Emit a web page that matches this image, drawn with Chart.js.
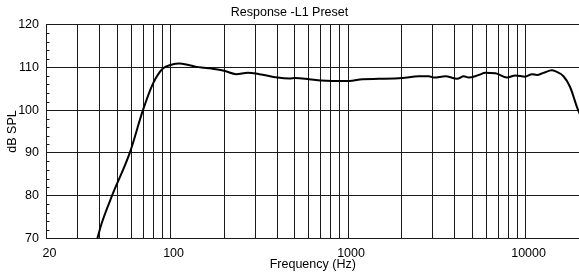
<!DOCTYPE html>
<html>
<head>
<meta charset="utf-8">
<script src="https://cdn.jsdelivr.net/npm/chart.js@4/dist/chart.umd.min.js"></script>
<style>
  html, body { margin: 0; padding: 0; background: #fff; }
  #wrap { position: relative; width: 579px; height: 277px; }
</style>
</head>
<body>
<div id="wrap"><canvas id="c"></canvas></div>
<script>
const chartTitle = "Response -L1 Preset";
const xTitle = "Frequency (Hz)";
const yTitle = "dB SPL";

const freqHz = [36.8, 38.7, 40.8, 46.8, 58.9, 69.9, 79.6, 90.5, 101, 112, 125, 140, 155, 170,
  200, 234, 272, 316, 401, 467, 504, 604, 703, 817, 1014, 1203, 1493, 2019, 2505, 2852, 3042, 3538,
  4113, 4483, 4786, 5445, 5937, 6760, 7857, 8750, 9955, 10860, 11580, 12620, 14060, 14690, 16350,
  17820, 19600, 20500];
const splDb = [66.5, 70, 73.4, 80, 90, 100, 106.2, 109.7, 110.6, 110.9, 110.6, 110.1, 109.9, 109.7,
  109.2, 108.4, 108.7, 108.4, 107.6, 107.4, 107.5, 107.2, 106.9, 106.8, 106.8, 107.2, 107.3, 107.5,
  107.9, 107.9, 107.6, 107.9, 107.3, 107.9, 107.6, 108.2, 108.7, 108.6, 107.6, 108.1, 107.8, 108.4,
  108.2, 108.7, 109.3, 109.1, 107.9, 105.4, 100.4, 98.5];

const xTickValues = [20, 30, 40, 50, 60, 70, 80, 90, 100, 200, 300, 400, 500, 600, 700, 800, 900,
  1000, 2000, 3000, 4000, 5000, 6000, 7000, 8000, 9000, 10000, 20000];
const xTickLabels = { 20: "20", 100: "100", 1000: "1000", 10000: "10000" };
const yMin = 70, yMax = 120, yMinorStep = 2, yMajorStep = 10;

const FONT = "'Liberation Sans', Arial, sans-serif";
const LINE = "#1a1a1a";

const points = freqHz.map((f, i) => ({ x: f, y: splDb[i] }));

const minorTicks = {
  id: 'minorTicks',
  afterDraw(chart) {
    const y = chart.scales.y;
    const ctx = chart.ctx;
    const left = chart.chartArea.left;
    ctx.save();
    ctx.strokeStyle = LINE;
    ctx.lineWidth = 1;
    for (let v = yMin; v <= yMax; v += yMinorStep) {
      if (v % yMajorStep === 0) continue;
      const py = Math.round(y.getPixelForValue(v)) + 0.5;
      ctx.beginPath();
      ctx.moveTo(left, py);
      ctx.lineTo(left + 3, py);
      ctx.stroke();
    }
    ctx.restore();
  }
};

new Chart(document.getElementById('c'), {
  type: 'line',
  data: {
    datasets: [{
      data: points,
      borderColor: '#000',
      borderWidth: 2,
      pointRadius: 0,
      cubicInterpolationMode: 'monotone',
      fill: false
    }]
  },
  options: {
    responsive: true,
    maintainAspectRatio: false,
    animation: false,
    layout: { padding: { left: 0, right: 0, top: 0, bottom: 0 } },
    plugins: {
      legend: { display: false },
      tooltip: { enabled: false },
      title: {
        display: true,
        text: chartTitle,
        color: '#000',
        font: { family: FONT, size: 12.5, weight: 'normal', lineHeight: 1.2 },
        padding: { top: 5.5, bottom: 4 }
      }
    },
    scales: {
      x: {
        type: 'logarithmic',
        min: 20,
        max: 20000,
        afterBuildTicks: (s) => { s.ticks = xTickValues.map(v => ({ value: v })); },
        afterFit: (s) => { s.height = 38.5; s.paddingLeft = 0; s.paddingRight = 0; },
        ticks: {
          autoSkip: false,
          maxRotation: 0,
          padding: 8,
          labelOffset: 3,
          color: '#000',
          font: { family: FONT, size: 12.5 },
          callback: (v) => xTickLabels[v] || ''
        },
        grid: {
          drawTicks: false,
          lineWidth: 1,
          color: (c) => (c.tick && (c.tick.value === 20000)) ? 'rgba(0,0,0,0)' : LINE
        },
        border: { display: true, color: LINE, width: 1 },
        title: {
          display: true,
          text: xTitle,
          color: '#000',
          font: { family: FONT, size: 12.5, lineHeight: 1.2 },
          padding: { top: 0, bottom: 4.5 }
        }
      },
      y: {
        min: yMin,
        max: yMax,
        afterFit: (s) => { s.width = 46.5; s.paddingTop = 0; s.paddingBottom = 0; },
        ticks: {
          stepSize: yMinorStep,
          autoSkip: false,
          padding: 7.5,
          color: '#000',
          font: { family: FONT, size: 12.5 },
          callback: (v) => (v % yMajorStep === 0 ? String(v) : '')
        },
        grid: {
          drawTicks: false,
          lineWidth: 1,
          color: (c) => (c.tick && c.tick.value % yMajorStep === 0) ? LINE : 'rgba(0,0,0,0)'
        },
        border: { display: true, color: LINE, width: 1 },
        title: {
          display: true,
          text: yTitle,
          color: '#000',
          font: { family: FONT, size: 12.5, lineHeight: 1.2 },
          padding: { top: 5.5, bottom: 0 }
        }
      }
    }
  },
  plugins: [minorTicks]
});
</script>
</body>
</html>
